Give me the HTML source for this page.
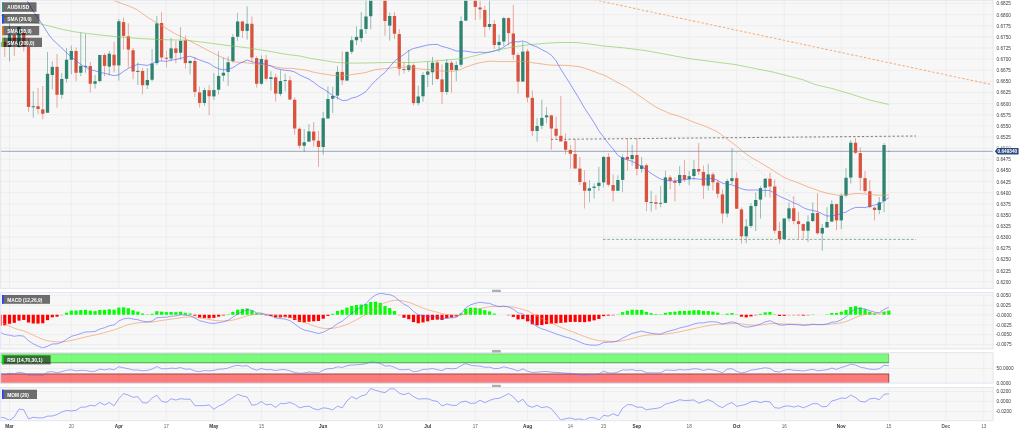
<!DOCTYPE html><html><head><meta charset="utf-8"><title>AUD/USD</title><style>html,body{margin:0;padding:0;background:#fff;overflow:hidden}svg{display:block}</style></head><body><svg width="1024" height="432" viewBox="0 0 1024 432" font-family="Liberation Sans, sans-serif">
<defs><filter id="soft" x="-10" y="-10" width="1044" height="452" filterUnits="userSpaceOnUse" color-interpolation-filters="sRGB"><feGaussianBlur stdDeviation="0.3"/></filter></defs>
<g filter="url(#soft)">
<rect x="-10" y="-10" width="1044" height="452" fill="#fff"/>
<rect x="-10" y="0" width="1003.3" height="288.4" fill="#f7f7f7"/>
<rect x="-10" y="292.5" width="1003.3" height="56.4" fill="#f7f7f7"/>
<rect x="-10" y="352.6" width="1003.3" height="30.5" fill="#f7f7f7"/>
<rect x="-10" y="387.5" width="1003.3" height="33.2" fill="#f7f7f7"/>
<path d="M9.5 0V288.4M71.29 0V288.4M118.82 0V288.4M166.35 0V288.4M213.88 0V288.4M261.41 0V288.4M323.2 0V288.4M380.23 0V288.4M427.76 0V288.4M475.29 0V288.4M527.58 0V288.4M570.35 0V288.4M603.62 0V288.4M636.9 0V288.4M689.18 0V288.4M736.71 0V288.4M784.24 0V288.4M841.27 0V288.4M888.81 0V288.4M945.84 0V288.4M983.87 0V288.4M9.5 292.5V348.9M71.29 292.5V348.9M118.82 292.5V348.9M166.35 292.5V348.9M213.88 292.5V348.9M261.41 292.5V348.9M323.2 292.5V348.9M380.23 292.5V348.9M427.76 292.5V348.9M475.29 292.5V348.9M527.58 292.5V348.9M570.35 292.5V348.9M603.62 292.5V348.9M636.9 292.5V348.9M689.18 292.5V348.9M736.71 292.5V348.9M784.24 292.5V348.9M841.27 292.5V348.9M888.81 292.5V348.9M945.84 292.5V348.9M983.87 292.5V348.9M9.5 352.6V383.1M71.29 352.6V383.1M118.82 352.6V383.1M166.35 352.6V383.1M213.88 352.6V383.1M261.41 352.6V383.1M323.2 352.6V383.1M380.23 352.6V383.1M427.76 352.6V383.1M475.29 352.6V383.1M527.58 352.6V383.1M570.35 352.6V383.1M603.62 352.6V383.1M636.9 352.6V383.1M689.18 352.6V383.1M736.71 352.6V383.1M784.24 352.6V383.1M841.27 352.6V383.1M888.81 352.6V383.1M945.84 352.6V383.1M983.87 352.6V383.1M9.5 387.5V420.7M71.29 387.5V420.7M118.82 387.5V420.7M166.35 387.5V420.7M213.88 387.5V420.7M261.41 387.5V420.7M323.2 387.5V420.7M380.23 387.5V420.7M427.76 387.5V420.7M475.29 387.5V420.7M527.58 387.5V420.7M570.35 387.5V420.7M603.62 387.5V420.7M636.9 387.5V420.7M689.18 387.5V420.7M736.71 387.5V420.7M784.24 387.5V420.7M841.27 387.5V420.7M888.81 387.5V420.7M945.84 387.5V420.7M983.87 387.5V420.7M0 3.5H993.3M0 14.63H993.3M0 25.76H993.3M0 36.89H993.3M0 48.02H993.3M0 59.15H993.3M0 70.28H993.3M0 81.41H993.3M0 92.54H993.3M0 103.67H993.3M0 114.8H993.3M0 125.93H993.3M0 137.06H993.3M0 148.19H993.3M0 159.32H993.3M0 170.45H993.3M0 181.58H993.3M0 192.71H993.3M0 203.84H993.3M0 214.97H993.3M0 226.1H993.3M0 237.23H993.3M0 248.36H993.3M0 259.49H993.3M0 270.62H993.3M0 281.75H993.3M0 295.5H993.3M0 305.25H993.3M0 314.75H993.3M0 325H993.3M0 334.5H993.3M0 344.5H993.3M0 368.5H993.3M0 391.5H993.3M0 401.5H993.3M0 411.5H993.3" stroke="#e9e9e9" stroke-width="0.7" fill="none"/>
<clipPath id="c0"><rect x="-10" y="-10" width="1003.3" height="298.2"/></clipPath>
<g clip-path="url(#c0)">
<path d="M0 151.3H993.3" stroke="#98a6be" stroke-width="1"/>
<path d="M590.3 -1L991.5 84.6" stroke="#f5b282" stroke-width="1.1" stroke-dasharray="2.5 1.87" fill="none"/>
<path d="M551 139.4L916 136" stroke="#3a3a3a" stroke-width="0.65" stroke-dasharray="2.2 2.18" fill="none"/>
<path d="M603 239.4H916" stroke="#79a784" stroke-width="0.9" stroke-dasharray="2.5 1.9" fill="none"/>
<path d="M733 149.5L800 204" stroke="#c4c4c4" stroke-width="0.6" stroke-dasharray="1.6 2.4" fill="none"/>
<path d="M-0.01 40V59.6" stroke="#2d8270" stroke-width="0.7" opacity="0.7"/>
<path d="M4.75 36.5V57" stroke="#d8533f" stroke-width="0.7" opacity="0.7"/>
<path d="M9.5 23.4V61.5" stroke="#2d8270" stroke-width="0.7" opacity="0.7"/>
<path d="M14.25 34.6V55.9" stroke="#d8533f" stroke-width="0.7" opacity="0.7"/>
<path d="M19.01 26.5V47.7" stroke="#2d8270" stroke-width="0.7" opacity="0.7"/>
<path d="M23.76 32V51.5" stroke="#d8533f" stroke-width="0.7" opacity="0.7"/>
<path d="M28.51 38.4V111.9" stroke="#d8533f" stroke-width="0.7" opacity="0.7"/>
<path d="M33.27 91V117.5" stroke="#2d8270" stroke-width="0.7" opacity="0.7"/>
<path d="M38.02 87.75V113.75" stroke="#d8533f" stroke-width="0.7" opacity="0.7"/>
<path d="M42.77 86V119.4" stroke="#d8533f" stroke-width="0.7" opacity="0.7"/>
<path d="M47.52 51.9V112.75" stroke="#2d8270" stroke-width="0.7" opacity="0.7"/>
<path d="M52.28 61.25V89.4" stroke="#2d8270" stroke-width="0.7" opacity="0.7"/>
<path d="M57.03 54V107.75" stroke="#d8533f" stroke-width="0.7" opacity="0.7"/>
<path d="M61.78 73.1V98.75" stroke="#2d8270" stroke-width="0.7" opacity="0.7"/>
<path d="M66.54 48.1V82.5" stroke="#2d8270" stroke-width="0.7" opacity="0.7"/>
<path d="M71.29 45.6V74.4" stroke="#2d8270" stroke-width="0.7" opacity="0.7"/>
<path d="M76.04 47.5V81.25" stroke="#d8533f" stroke-width="0.7" opacity="0.7"/>
<path d="M80.8 32.75V76.25" stroke="#2d8270" stroke-width="0.7" opacity="0.7"/>
<path d="M85.55 34V72.75" stroke="#2d8270" stroke-width="0.7" opacity="0.7"/>
<path d="M90.3 61.9V92.5" stroke="#d8533f" stroke-width="0.7" opacity="0.7"/>
<path d="M95.05 75V88.5" stroke="#2d8270" stroke-width="0.7" opacity="0.7"/>
<path d="M99.81 54.75V82.5" stroke="#2d8270" stroke-width="0.7" opacity="0.7"/>
<path d="M104.56 53.1V76.25" stroke="#d8533f" stroke-width="0.7" opacity="0.7"/>
<path d="M109.31 51V75.6" stroke="#2d8270" stroke-width="0.7" opacity="0.7"/>
<path d="M114.07 41.9V72.5" stroke="#d8533f" stroke-width="0.7" opacity="0.7"/>
<path d="M118.82 19V80.6" stroke="#2d8270" stroke-width="0.7" opacity="0.7"/>
<path d="M123.57 17.5V49.6" stroke="#d8533f" stroke-width="0.7" opacity="0.7"/>
<path d="M128.32 23.4V67.5" stroke="#d8533f" stroke-width="0.7" opacity="0.7"/>
<path d="M133.08 48V79.4" stroke="#d8533f" stroke-width="0.7" opacity="0.7"/>
<path d="M137.83 62.5V85" stroke="#2d8270" stroke-width="0.7" opacity="0.7"/>
<path d="M142.58 68.1V94.4" stroke="#d8533f" stroke-width="0.7" opacity="0.7"/>
<path d="M147.34 68.1V89" stroke="#2d8270" stroke-width="0.7" opacity="0.7"/>
<path d="M152.09 49V81.25" stroke="#2d8270" stroke-width="0.7" opacity="0.7"/>
<path d="M156.84 15.9V65" stroke="#2d8270" stroke-width="0.7" opacity="0.7"/>
<path d="M161.6 12.1V61.25" stroke="#d8533f" stroke-width="0.7" opacity="0.7"/>
<path d="M166.35 50.5V67.5" stroke="#d8533f" stroke-width="0.7" opacity="0.7"/>
<path d="M171.1 38V61.25" stroke="#2d8270" stroke-width="0.7" opacity="0.7"/>
<path d="M175.86 40.9V63.1" stroke="#d8533f" stroke-width="0.7" opacity="0.7"/>
<path d="M180.61 27.1V60" stroke="#2d8270" stroke-width="0.7" opacity="0.7"/>
<path d="M185.36 35.25V68.75" stroke="#d8533f" stroke-width="0.7" opacity="0.7"/>
<path d="M190.11 60V74.4" stroke="#2d8270" stroke-width="0.7" opacity="0.7"/>
<path d="M194.87 56.9V97" stroke="#d8533f" stroke-width="0.7" opacity="0.7"/>
<path d="M199.62 86.4V107.5" stroke="#d8533f" stroke-width="0.7" opacity="0.7"/>
<path d="M204.37 87.6V105.9" stroke="#2d8270" stroke-width="0.7" opacity="0.7"/>
<path d="M209.13 85.25V115.25" stroke="#d8533f" stroke-width="0.7" opacity="0.7"/>
<path d="M213.88 73.1V100.1" stroke="#2d8270" stroke-width="0.7" opacity="0.7"/>
<path d="M218.63 51.25V94.5" stroke="#2d8270" stroke-width="0.7" opacity="0.7"/>
<path d="M223.38 57.5V81.25" stroke="#2d8270" stroke-width="0.7" opacity="0.7"/>
<path d="M228.14 56.5V85.75" stroke="#2d8270" stroke-width="0.7" opacity="0.7"/>
<path d="M232.89 34V62.75" stroke="#2d8270" stroke-width="0.7" opacity="0.7"/>
<path d="M237.64 12.75V40.9" stroke="#2d8270" stroke-width="0.7" opacity="0.7"/>
<path d="M242.4 20.9V37.75" stroke="#d8533f" stroke-width="0.7" opacity="0.7"/>
<path d="M247.15 6.25V39.6" stroke="#2d8270" stroke-width="0.7" opacity="0.7"/>
<path d="M251.9 16.5V62.5" stroke="#d8533f" stroke-width="0.7" opacity="0.7"/>
<path d="M256.66 56.25V87.6" stroke="#d8533f" stroke-width="0.7" opacity="0.7"/>
<path d="M261.41 55.25V85" stroke="#2d8270" stroke-width="0.7" opacity="0.7"/>
<path d="M266.16 55V80.6" stroke="#d8533f" stroke-width="0.7" opacity="0.7"/>
<path d="M270.92 71.25V90.5" stroke="#2d8270" stroke-width="0.7" opacity="0.7"/>
<path d="M275.67 73.75V101.5" stroke="#d8533f" stroke-width="0.7" opacity="0.7"/>
<path d="M280.42 70V96.25" stroke="#2d8270" stroke-width="0.7" opacity="0.7"/>
<path d="M285.17 73.75V91.4" stroke="#2d8270" stroke-width="0.7" opacity="0.7"/>
<path d="M289.93 76.25V100" stroke="#d8533f" stroke-width="0.7" opacity="0.7"/>
<path d="M294.68 97.25V134.75" stroke="#d8533f" stroke-width="0.7" opacity="0.7"/>
<path d="M299.43 127.25V148.5" stroke="#d8533f" stroke-width="0.7" opacity="0.7"/>
<path d="M304.19 129V152.2" stroke="#2d8270" stroke-width="0.7" opacity="0.7"/>
<path d="M308.94 124.1V141.6" stroke="#2d8270" stroke-width="0.7" opacity="0.7"/>
<path d="M313.69 122V146.6" stroke="#d8533f" stroke-width="0.7" opacity="0.7"/>
<path d="M318.44 131V167" stroke="#d8533f" stroke-width="0.7" opacity="0.7"/>
<path d="M323.2 112V154.7" stroke="#2d8270" stroke-width="0.7" opacity="0.7"/>
<path d="M327.95 86.25V118.5" stroke="#2d8270" stroke-width="0.7" opacity="0.7"/>
<path d="M332.7 86.9V112.9" stroke="#2d8270" stroke-width="0.7" opacity="0.7"/>
<path d="M337.46 66V99.4" stroke="#2d8270" stroke-width="0.7" opacity="0.7"/>
<path d="M342.21 51.4V85" stroke="#d8533f" stroke-width="0.7" opacity="0.7"/>
<path d="M346.96 51.5V80.6" stroke="#2d8270" stroke-width="0.7" opacity="0.7"/>
<path d="M351.72 36.5V54" stroke="#2d8270" stroke-width="0.7" opacity="0.7"/>
<path d="M356.47 26.25V45" stroke="#2d8270" stroke-width="0.7" opacity="0.7"/>
<path d="M361.22 11.9V41.9" stroke="#2d8270" stroke-width="0.7" opacity="0.7"/>
<path d="M365.98 -5V34" stroke="#2d8270" stroke-width="0.7" opacity="0.7"/>
<path d="M370.73 -8V29.4" stroke="#2d8270" stroke-width="0.7" opacity="0.7"/>
<path d="M375.48 -25V-3" stroke="#2d8270" stroke-width="0.7" opacity="0.7"/>
<path d="M380.23 -25V-3" stroke="#d8533f" stroke-width="0.7" opacity="0.7"/>
<path d="M384.99 -10V35.6" stroke="#d8533f" stroke-width="0.7" opacity="0.7"/>
<path d="M389.74 12.5V40.6" stroke="#2d8270" stroke-width="0.7" opacity="0.7"/>
<path d="M394.49 11.9V39" stroke="#d8533f" stroke-width="0.7" opacity="0.7"/>
<path d="M399.25 29V75.6" stroke="#d8533f" stroke-width="0.7" opacity="0.7"/>
<path d="M404 61.9V73.5" stroke="#d8533f" stroke-width="0.7" opacity="0.7"/>
<path d="M408.75 50V71.9" stroke="#2d8270" stroke-width="0.7" opacity="0.7"/>
<path d="M413.5 63.5V105.25" stroke="#d8533f" stroke-width="0.7" opacity="0.7"/>
<path d="M418.26 85.6V105.5" stroke="#2d8270" stroke-width="0.7" opacity="0.7"/>
<path d="M423.01 72.25V101.8" stroke="#2d8270" stroke-width="0.7" opacity="0.7"/>
<path d="M427.76 61.9V86.9" stroke="#2d8270" stroke-width="0.7" opacity="0.7"/>
<path d="M432.52 56.9V85" stroke="#2d8270" stroke-width="0.7" opacity="0.7"/>
<path d="M437.27 59.75V80" stroke="#d8533f" stroke-width="0.7" opacity="0.7"/>
<path d="M442.02 64.4V104" stroke="#d8533f" stroke-width="0.7" opacity="0.7"/>
<path d="M446.78 59V94.7" stroke="#2d8270" stroke-width="0.7" opacity="0.7"/>
<path d="M451.53 61V92.75" stroke="#d8533f" stroke-width="0.7" opacity="0.7"/>
<path d="M456.28 61.25V81.25" stroke="#2d8270" stroke-width="0.7" opacity="0.7"/>
<path d="M461.04 16.25V66.9" stroke="#2d8270" stroke-width="0.7" opacity="0.7"/>
<path d="M465.79 -8V21" stroke="#2d8270" stroke-width="0.7" opacity="0.7"/>
<path d="M470.54 -20V1" stroke="#d8533f" stroke-width="0.7" opacity="0.7"/>
<path d="M475.29 -5V20" stroke="#d8533f" stroke-width="0.7" opacity="0.7"/>
<path d="M480.05 -2V19.4" stroke="#d8533f" stroke-width="0.7" opacity="0.7"/>
<path d="M484.8 5.6V36.9" stroke="#d8533f" stroke-width="0.7" opacity="0.7"/>
<path d="M489.55 -2V29.75" stroke="#2d8270" stroke-width="0.7" opacity="0.7"/>
<path d="M494.31 20V49" stroke="#d8533f" stroke-width="0.7" opacity="0.7"/>
<path d="M499.06 34.4V51.9" stroke="#2d8270" stroke-width="0.7" opacity="0.7"/>
<path d="M503.81 16.9V46.25" stroke="#2d8270" stroke-width="0.7" opacity="0.7"/>
<path d="M508.56 17.25V45.6" stroke="#d8533f" stroke-width="0.7" opacity="0.7"/>
<path d="M513.32 5V59.5" stroke="#d8533f" stroke-width="0.7" opacity="0.7"/>
<path d="M518.07 52.75V93.5" stroke="#d8533f" stroke-width="0.7" opacity="0.7"/>
<path d="M522.82 41.9V81.6" stroke="#2d8270" stroke-width="0.7" opacity="0.7"/>
<path d="M527.58 49V102.25" stroke="#d8533f" stroke-width="0.7" opacity="0.7"/>
<path d="M532.33 90.4V136" stroke="#d8533f" stroke-width="0.7" opacity="0.7"/>
<path d="M537.08 118.25V141.6" stroke="#2d8270" stroke-width="0.7" opacity="0.7"/>
<path d="M541.84 99.75V129.1" stroke="#2d8270" stroke-width="0.7" opacity="0.7"/>
<path d="M546.59 107V123.5" stroke="#2d8270" stroke-width="0.7" opacity="0.7"/>
<path d="M551.34 114.75V149.75" stroke="#d8533f" stroke-width="0.7" opacity="0.7"/>
<path d="M556.1 116.6V138.5" stroke="#d8533f" stroke-width="0.7" opacity="0.7"/>
<path d="M560.85 96V141.6" stroke="#d8533f" stroke-width="0.7" opacity="0.7"/>
<path d="M565.6 133.5V154.4" stroke="#d8533f" stroke-width="0.7" opacity="0.7"/>
<path d="M570.35 145V168.75" stroke="#d8533f" stroke-width="0.7" opacity="0.7"/>
<path d="M575.11 138.9V168.75" stroke="#d8533f" stroke-width="0.7" opacity="0.7"/>
<path d="M579.86 156.9V185" stroke="#d8533f" stroke-width="0.7" opacity="0.7"/>
<path d="M584.61 170.2V208.5" stroke="#d8533f" stroke-width="0.7" opacity="0.7"/>
<path d="M589.37 180V202.25" stroke="#2d8270" stroke-width="0.7" opacity="0.7"/>
<path d="M594.12 183.3V198.5" stroke="#2d8270" stroke-width="0.7" opacity="0.7"/>
<path d="M598.87 166.9V191" stroke="#2d8270" stroke-width="0.7" opacity="0.7"/>
<path d="M603.62 156.25V187.25" stroke="#2d8270" stroke-width="0.7" opacity="0.7"/>
<path d="M608.38 153.1V186.6" stroke="#d8533f" stroke-width="0.7" opacity="0.7"/>
<path d="M613.13 174.2V201.6" stroke="#d8533f" stroke-width="0.7" opacity="0.7"/>
<path d="M617.88 175.3V191" stroke="#2d8270" stroke-width="0.7" opacity="0.7"/>
<path d="M622.64 154.4V192.25" stroke="#2d8270" stroke-width="0.7" opacity="0.7"/>
<path d="M627.39 138.5V170.8" stroke="#d8533f" stroke-width="0.7" opacity="0.7"/>
<path d="M632.14 144.75V165.6" stroke="#2d8270" stroke-width="0.7" opacity="0.7"/>
<path d="M636.9 138.1V175.5" stroke="#d8533f" stroke-width="0.7" opacity="0.7"/>
<path d="M641.65 156.9V172.7" stroke="#2d8270" stroke-width="0.7" opacity="0.7"/>
<path d="M646.4 163.5V211.25" stroke="#d8533f" stroke-width="0.7" opacity="0.7"/>
<path d="M651.15 190.75V211.6" stroke="#2d8270" stroke-width="0.7" opacity="0.7"/>
<path d="M655.91 195V209.75" stroke="#d8533f" stroke-width="0.7" opacity="0.7"/>
<path d="M660.66 186.1V207.25" stroke="#2d8270" stroke-width="0.7" opacity="0.7"/>
<path d="M665.41 170.8V202.9" stroke="#2d8270" stroke-width="0.7" opacity="0.7"/>
<path d="M670.17 175.2V189.25" stroke="#d8533f" stroke-width="0.7" opacity="0.7"/>
<path d="M674.92 177.4V201.4" stroke="#d8533f" stroke-width="0.7" opacity="0.7"/>
<path d="M679.67 166V185.5" stroke="#2d8270" stroke-width="0.7" opacity="0.7"/>
<path d="M684.43 160V182" stroke="#d8533f" stroke-width="0.7" opacity="0.7"/>
<path d="M689.18 171V185.25" stroke="#2d8270" stroke-width="0.7" opacity="0.7"/>
<path d="M693.93 160V180" stroke="#2d8270" stroke-width="0.7" opacity="0.7"/>
<path d="M698.69 143.1V175" stroke="#d8533f" stroke-width="0.7" opacity="0.7"/>
<path d="M703.44 165.6V199" stroke="#d8533f" stroke-width="0.7" opacity="0.7"/>
<path d="M708.19 163.75V190.6" stroke="#2d8270" stroke-width="0.7" opacity="0.7"/>
<path d="M712.94 172.25V190.6" stroke="#d8533f" stroke-width="0.7" opacity="0.7"/>
<path d="M717.7 180V198.1" stroke="#d8533f" stroke-width="0.7" opacity="0.7"/>
<path d="M722.45 189.4V223.1" stroke="#d8533f" stroke-width="0.7" opacity="0.7"/>
<path d="M727.2 178.75V217.5" stroke="#2d8270" stroke-width="0.7" opacity="0.7"/>
<path d="M731.96 148.1V183.75" stroke="#2d8270" stroke-width="0.7" opacity="0.7"/>
<path d="M736.71 172.5V209" stroke="#d8533f" stroke-width="0.7" opacity="0.7"/>
<path d="M741.46 207.5V243.5" stroke="#d8533f" stroke-width="0.7" opacity="0.7"/>
<path d="M746.22 219V243.25" stroke="#2d8270" stroke-width="0.7" opacity="0.7"/>
<path d="M750.97 203.1V228.1" stroke="#2d8270" stroke-width="0.7" opacity="0.7"/>
<path d="M755.72 192.6V231.1" stroke="#2d8270" stroke-width="0.7" opacity="0.7"/>
<path d="M760.47 186.25V218.5" stroke="#2d8270" stroke-width="0.7" opacity="0.7"/>
<path d="M765.23 178V196.9" stroke="#2d8270" stroke-width="0.7" opacity="0.7"/>
<path d="M769.98 172.6V197.5" stroke="#d8533f" stroke-width="0.7" opacity="0.7"/>
<path d="M774.73 179.4V233.9" stroke="#d8533f" stroke-width="0.7" opacity="0.7"/>
<path d="M779.49 222.25V243.5" stroke="#d8533f" stroke-width="0.7" opacity="0.7"/>
<path d="M784.24 218V239.1" stroke="#2d8270" stroke-width="0.7" opacity="0.7"/>
<path d="M788.99 202.5V221.6" stroke="#2d8270" stroke-width="0.7" opacity="0.7"/>
<path d="M793.75 196.25V224.5" stroke="#d8533f" stroke-width="0.7" opacity="0.7"/>
<path d="M798.5 212V238.75" stroke="#d8533f" stroke-width="0.7" opacity="0.7"/>
<path d="M803.25 223.5V238.75" stroke="#d8533f" stroke-width="0.7" opacity="0.7"/>
<path d="M808 215.4V242" stroke="#2d8270" stroke-width="0.7" opacity="0.7"/>
<path d="M812.76 202.5V222.25" stroke="#2d8270" stroke-width="0.7" opacity="0.7"/>
<path d="M817.51 193.3V234.75" stroke="#d8533f" stroke-width="0.7" opacity="0.7"/>
<path d="M822.26 224.1V250.75" stroke="#2d8270" stroke-width="0.7" opacity="0.7"/>
<path d="M827.02 207.25V227.5" stroke="#2d8270" stroke-width="0.7" opacity="0.7"/>
<path d="M831.77 200.3V221.6" stroke="#2d8270" stroke-width="0.7" opacity="0.7"/>
<path d="M836.52 203.5V230.2" stroke="#d8533f" stroke-width="0.7" opacity="0.7"/>
<path d="M841.27 193.3V229.1" stroke="#2d8270" stroke-width="0.7" opacity="0.7"/>
<path d="M846.03 168.1V197.4" stroke="#2d8270" stroke-width="0.7" opacity="0.7"/>
<path d="M850.78 140V183.6" stroke="#2d8270" stroke-width="0.7" opacity="0.7"/>
<path d="M855.53 138.1V154" stroke="#d8533f" stroke-width="0.7" opacity="0.7"/>
<path d="M860.29 147.5V190.5" stroke="#d8533f" stroke-width="0.7" opacity="0.7"/>
<path d="M865.04 171.1V193" stroke="#d8533f" stroke-width="0.7" opacity="0.7"/>
<path d="M869.79 180.2V208.3" stroke="#d8533f" stroke-width="0.7" opacity="0.7"/>
<path d="M874.55 206.6V220.4" stroke="#d8533f" stroke-width="0.7" opacity="0.7"/>
<path d="M879.3 197V214.1" stroke="#2d8270" stroke-width="0.7" opacity="0.7"/>
<path d="M884.05 143.1V212.25" stroke="#2d8270" stroke-width="0.7" opacity="0.7"/>
<path d="M888.81 150.9V151.7" stroke="#d8533f" stroke-width="0.7" opacity="0.7"/>
<rect x="-1.66" y="42.1" width="3.3" height="4.9" fill="#2d8270"/>
<rect x="3.1" y="42" width="3.3" height="5" fill="#d8533f"/>
<rect x="7.85" y="34.6" width="3.3" height="12.4" fill="#2d8270"/>
<rect x="12.6" y="35" width="3.3" height="10" fill="#d8533f"/>
<rect x="17.36" y="27" width="3.3" height="20" fill="#2d8270"/>
<rect x="22.11" y="32.75" width="3.3" height="13.75" fill="#d8533f"/>
<rect x="26.86" y="47" width="3.3" height="59.9" fill="#d8533f"/>
<rect x="31.62" y="106.25" width="3.3" height="1" fill="#2d8270"/>
<rect x="36.37" y="106.25" width="3.3" height="2.75" fill="#d8533f"/>
<rect x="41.12" y="109.4" width="3.3" height="4.35" fill="#d8533f"/>
<rect x="45.87" y="73.75" width="3.3" height="39" fill="#2d8270"/>
<rect x="50.63" y="66.9" width="3.3" height="8.1" fill="#2d8270"/>
<rect x="55.38" y="66.9" width="3.3" height="27.85" fill="#d8533f"/>
<rect x="60.13" y="79" width="3.3" height="15.75" fill="#2d8270"/>
<rect x="64.89" y="59.75" width="3.3" height="19" fill="#2d8270"/>
<rect x="69.64" y="51" width="3.3" height="8.75" fill="#2d8270"/>
<rect x="74.39" y="51" width="3.3" height="21.75" fill="#d8533f"/>
<rect x="79.14" y="65.9" width="3.3" height="6.85" fill="#2d8270"/>
<rect x="83.9" y="65.9" width="3.3" height="1" fill="#2d8270"/>
<rect x="88.65" y="66" width="3.3" height="17.75" fill="#d8533f"/>
<rect x="93.4" y="81.25" width="3.3" height="2.5" fill="#2d8270"/>
<rect x="98.16" y="55" width="3.3" height="26" fill="#2d8270"/>
<rect x="102.91" y="55" width="3.3" height="10.9" fill="#d8533f"/>
<rect x="107.66" y="53.75" width="3.3" height="12.85" fill="#2d8270"/>
<rect x="112.42" y="54.75" width="3.3" height="10.65" fill="#d8533f"/>
<rect x="117.17" y="21.25" width="3.3" height="44.15" fill="#2d8270"/>
<rect x="121.92" y="22.1" width="3.3" height="13.8" fill="#d8533f"/>
<rect x="126.67" y="36.25" width="3.3" height="13.35" fill="#d8533f"/>
<rect x="131.43" y="50.25" width="3.3" height="21.25" fill="#d8533f"/>
<rect x="136.18" y="70.9" width="3.3" height="1" fill="#2d8270"/>
<rect x="140.93" y="71" width="3.3" height="14.25" fill="#d8533f"/>
<rect x="145.69" y="80" width="3.3" height="5.25" fill="#2d8270"/>
<rect x="150.44" y="63.5" width="3.3" height="16.25" fill="#2d8270"/>
<rect x="155.19" y="23.4" width="3.3" height="39.7" fill="#2d8270"/>
<rect x="159.95" y="23" width="3.3" height="34.5" fill="#d8533f"/>
<rect x="164.7" y="57.75" width="3.3" height="1" fill="#d8533f"/>
<rect x="169.45" y="48.4" width="3.3" height="10.1" fill="#2d8270"/>
<rect x="174.21" y="48.4" width="3.3" height="4.5" fill="#d8533f"/>
<rect x="178.96" y="40.9" width="3.3" height="11.85" fill="#2d8270"/>
<rect x="183.71" y="40.25" width="3.3" height="22.85" fill="#d8533f"/>
<rect x="188.46" y="61" width="3.3" height="2.1" fill="#2d8270"/>
<rect x="193.22" y="61" width="3.3" height="30.9" fill="#d8533f"/>
<rect x="197.97" y="92.4" width="3.3" height="10.6" fill="#d8533f"/>
<rect x="202.72" y="90.1" width="3.3" height="12.9" fill="#2d8270"/>
<rect x="207.48" y="90.25" width="3.3" height="6" fill="#d8533f"/>
<rect x="212.23" y="90" width="3.3" height="6.4" fill="#2d8270"/>
<rect x="216.98" y="75.9" width="3.3" height="13.8" fill="#2d8270"/>
<rect x="221.73" y="72.75" width="3.3" height="2.85" fill="#2d8270"/>
<rect x="226.49" y="62.25" width="3.3" height="9.65" fill="#2d8270"/>
<rect x="231.24" y="37.1" width="3.3" height="24" fill="#2d8270"/>
<rect x="235.99" y="21.5" width="3.3" height="15.25" fill="#2d8270"/>
<rect x="240.75" y="21.5" width="3.3" height="9.4" fill="#d8533f"/>
<rect x="245.5" y="23.75" width="3.3" height="7.15" fill="#2d8270"/>
<rect x="250.25" y="23.75" width="3.3" height="33.75" fill="#d8533f"/>
<rect x="255.01" y="58.1" width="3.3" height="25.65" fill="#d8533f"/>
<rect x="259.76" y="59" width="3.3" height="24.75" fill="#2d8270"/>
<rect x="264.51" y="59.75" width="3.3" height="19" fill="#d8533f"/>
<rect x="269.27" y="77.25" width="3.3" height="1.75" fill="#2d8270"/>
<rect x="274.02" y="77.25" width="3.3" height="16.35" fill="#d8533f"/>
<rect x="278.77" y="81" width="3.3" height="12.9" fill="#2d8270"/>
<rect x="283.52" y="80" width="3.3" height="0.8" fill="#2d8270"/>
<rect x="288.28" y="80.25" width="3.3" height="19.25" fill="#d8533f"/>
<rect x="293.03" y="99.75" width="3.3" height="28.75" fill="#d8533f"/>
<rect x="297.78" y="128.75" width="3.3" height="17" fill="#d8533f"/>
<rect x="302.54" y="142.25" width="3.3" height="3.5" fill="#2d8270"/>
<rect x="307.29" y="131.4" width="3.3" height="10.2" fill="#2d8270"/>
<rect x="312.04" y="131.6" width="3.3" height="8.8" fill="#d8533f"/>
<rect x="316.8" y="140.75" width="3.3" height="6.25" fill="#d8533f"/>
<rect x="321.55" y="118.25" width="3.3" height="28.75" fill="#2d8270"/>
<rect x="326.3" y="99" width="3.3" height="19.5" fill="#2d8270"/>
<rect x="331.05" y="96" width="3.3" height="2.75" fill="#2d8270"/>
<rect x="335.81" y="71.9" width="3.3" height="23.7" fill="#2d8270"/>
<rect x="340.56" y="71.9" width="3.3" height="8.35" fill="#d8533f"/>
<rect x="345.31" y="51.9" width="3.3" height="28.7" fill="#2d8270"/>
<rect x="350.07" y="40.25" width="3.3" height="11.45" fill="#2d8270"/>
<rect x="354.82" y="36.9" width="3.3" height="3.35" fill="#2d8270"/>
<rect x="359.57" y="29.4" width="3.3" height="8.7" fill="#2d8270"/>
<rect x="364.33" y="16.5" width="3.3" height="12.5" fill="#2d8270"/>
<rect x="369.08" y="-5" width="3.3" height="21.25" fill="#2d8270"/>
<rect x="373.83" y="-20" width="3.3" height="15" fill="#2d8270"/>
<rect x="378.58" y="-20" width="3.3" height="12" fill="#d8533f"/>
<rect x="383.34" y="-8" width="3.3" height="29" fill="#d8533f"/>
<rect x="388.09" y="16" width="3.3" height="9.6" fill="#2d8270"/>
<rect x="392.84" y="16" width="3.3" height="17.75" fill="#d8533f"/>
<rect x="397.6" y="34" width="3.3" height="34.75" fill="#d8533f"/>
<rect x="402.35" y="69" width="3.3" height="1" fill="#d8533f"/>
<rect x="407.1" y="65.25" width="3.3" height="4.75" fill="#2d8270"/>
<rect x="411.86" y="65.25" width="3.3" height="37.85" fill="#d8533f"/>
<rect x="416.61" y="96.5" width="3.3" height="6.6" fill="#2d8270"/>
<rect x="421.36" y="75" width="3.3" height="21.3" fill="#2d8270"/>
<rect x="426.11" y="71.5" width="3.3" height="3.25" fill="#2d8270"/>
<rect x="430.87" y="62.75" width="3.3" height="9.5" fill="#2d8270"/>
<rect x="435.62" y="62.5" width="3.3" height="16.5" fill="#d8533f"/>
<rect x="440.37" y="79.4" width="3.3" height="12.6" fill="#d8533f"/>
<rect x="445.13" y="62.75" width="3.3" height="29.25" fill="#2d8270"/>
<rect x="449.88" y="62.75" width="3.3" height="7.25" fill="#d8533f"/>
<rect x="454.63" y="65" width="3.3" height="5" fill="#2d8270"/>
<rect x="459.39" y="21" width="3.3" height="43.75" fill="#2d8270"/>
<rect x="464.14" y="-5" width="3.3" height="25.6" fill="#2d8270"/>
<rect x="468.89" y="-15" width="3.3" height="12" fill="#d8533f"/>
<rect x="473.64" y="-3" width="3.3" height="9.9" fill="#d8533f"/>
<rect x="478.4" y="7.5" width="3.3" height="1.9" fill="#d8533f"/>
<rect x="483.15" y="10" width="3.3" height="16.9" fill="#d8533f"/>
<rect x="487.9" y="24" width="3.3" height="2.9" fill="#2d8270"/>
<rect x="492.66" y="24" width="3.3" height="21" fill="#d8533f"/>
<rect x="497.41" y="41.9" width="3.3" height="3.1" fill="#2d8270"/>
<rect x="502.16" y="18.1" width="3.3" height="23.4" fill="#2d8270"/>
<rect x="506.92" y="18.1" width="3.3" height="15" fill="#d8533f"/>
<rect x="511.67" y="33.5" width="3.3" height="21.25" fill="#d8533f"/>
<rect x="516.42" y="55" width="3.3" height="26.6" fill="#d8533f"/>
<rect x="521.17" y="51.6" width="3.3" height="30" fill="#2d8270"/>
<rect x="525.93" y="51.25" width="3.3" height="46.25" fill="#d8533f"/>
<rect x="530.68" y="97.9" width="3.3" height="33.1" fill="#d8533f"/>
<rect x="535.43" y="126" width="3.3" height="5" fill="#2d8270"/>
<rect x="540.19" y="117.9" width="3.3" height="7.85" fill="#2d8270"/>
<rect x="544.94" y="115.4" width="3.3" height="1.85" fill="#2d8270"/>
<rect x="549.69" y="115.4" width="3.3" height="13.1" fill="#d8533f"/>
<rect x="554.45" y="128.75" width="3.3" height="7" fill="#d8533f"/>
<rect x="559.2" y="135.8" width="3.3" height="5.6" fill="#d8533f"/>
<rect x="563.95" y="141.25" width="3.3" height="8.5" fill="#d8533f"/>
<rect x="568.7" y="150" width="3.3" height="3.75" fill="#d8533f"/>
<rect x="573.46" y="154" width="3.3" height="14.5" fill="#d8533f"/>
<rect x="578.21" y="168.6" width="3.3" height="13.4" fill="#d8533f"/>
<rect x="582.96" y="182.25" width="3.3" height="8.5" fill="#d8533f"/>
<rect x="587.72" y="188.25" width="3.3" height="2.5" fill="#2d8270"/>
<rect x="592.47" y="186.6" width="3.3" height="1.3" fill="#2d8270"/>
<rect x="597.22" y="182.8" width="3.3" height="3.2" fill="#2d8270"/>
<rect x="601.98" y="156.9" width="3.3" height="25.5" fill="#2d8270"/>
<rect x="606.73" y="156.9" width="3.3" height="27.85" fill="#d8533f"/>
<rect x="611.48" y="185" width="3.3" height="5.75" fill="#d8533f"/>
<rect x="616.23" y="180" width="3.3" height="10.75" fill="#2d8270"/>
<rect x="620.99" y="157.25" width="3.3" height="22.65" fill="#2d8270"/>
<rect x="625.74" y="156.9" width="3.3" height="2.5" fill="#d8533f"/>
<rect x="630.49" y="155" width="3.3" height="4" fill="#2d8270"/>
<rect x="635.25" y="155" width="3.3" height="13.9" fill="#d8533f"/>
<rect x="640" y="165.6" width="3.3" height="3.3" fill="#2d8270"/>
<rect x="644.75" y="165.25" width="3.3" height="36.75" fill="#d8533f"/>
<rect x="649.5" y="202" width="3.3" height="0.8" fill="#2d8270"/>
<rect x="654.26" y="202.25" width="3.3" height="1.5" fill="#d8533f"/>
<rect x="659.01" y="202.9" width="3.3" height="0.85" fill="#2d8270"/>
<rect x="663.76" y="177.4" width="3.3" height="25.5" fill="#2d8270"/>
<rect x="668.52" y="177.4" width="3.3" height="3.3" fill="#d8533f"/>
<rect x="673.27" y="181" width="3.3" height="1.8" fill="#d8533f"/>
<rect x="678.02" y="175" width="3.3" height="8" fill="#2d8270"/>
<rect x="682.78" y="175" width="3.3" height="4.6" fill="#d8533f"/>
<rect x="687.53" y="176.25" width="3.3" height="2.75" fill="#2d8270"/>
<rect x="692.28" y="169" width="3.3" height="7" fill="#2d8270"/>
<rect x="697.04" y="169" width="3.3" height="2.5" fill="#d8533f"/>
<rect x="701.79" y="171.9" width="3.3" height="13.7" fill="#d8533f"/>
<rect x="706.54" y="174.4" width="3.3" height="11.2" fill="#2d8270"/>
<rect x="711.29" y="174.4" width="3.3" height="7.85" fill="#d8533f"/>
<rect x="716.05" y="182.5" width="3.3" height="11.25" fill="#d8533f"/>
<rect x="720.8" y="194.4" width="3.3" height="19.1" fill="#d8533f"/>
<rect x="725.55" y="181" width="3.3" height="32.5" fill="#2d8270"/>
<rect x="730.31" y="178.1" width="3.3" height="2.9" fill="#2d8270"/>
<rect x="735.06" y="178.1" width="3.3" height="30.65" fill="#d8533f"/>
<rect x="739.81" y="209.4" width="3.3" height="26.9" fill="#d8533f"/>
<rect x="744.57" y="226.4" width="3.3" height="9.9" fill="#2d8270"/>
<rect x="749.32" y="206" width="3.3" height="20" fill="#2d8270"/>
<rect x="754.07" y="200" width="3.3" height="6.1" fill="#2d8270"/>
<rect x="758.82" y="188.1" width="3.3" height="11.5" fill="#2d8270"/>
<rect x="763.58" y="178.75" width="3.3" height="9" fill="#2d8270"/>
<rect x="768.33" y="178.75" width="3.3" height="7.75" fill="#d8533f"/>
<rect x="773.08" y="186.5" width="3.3" height="44.2" fill="#d8533f"/>
<rect x="777.84" y="231" width="3.3" height="8.1" fill="#d8533f"/>
<rect x="782.59" y="218.5" width="3.3" height="20.6" fill="#2d8270"/>
<rect x="787.34" y="208.3" width="3.3" height="10.2" fill="#2d8270"/>
<rect x="792.1" y="208.3" width="3.3" height="12.7" fill="#d8533f"/>
<rect x="796.85" y="221.25" width="3.3" height="2.85" fill="#d8533f"/>
<rect x="801.6" y="224.1" width="3.3" height="6.65" fill="#d8533f"/>
<rect x="806.35" y="221.6" width="3.3" height="9.15" fill="#2d8270"/>
<rect x="811.11" y="213.2" width="3.3" height="7.8" fill="#2d8270"/>
<rect x="815.86" y="213" width="3.3" height="20.25" fill="#d8533f"/>
<rect x="820.61" y="227.9" width="3.3" height="5.6" fill="#2d8270"/>
<rect x="825.37" y="222" width="3.3" height="5.5" fill="#2d8270"/>
<rect x="830.12" y="204.1" width="3.3" height="17.5" fill="#2d8270"/>
<rect x="834.87" y="204.1" width="3.3" height="16.3" fill="#d8533f"/>
<rect x="839.62" y="195.7" width="3.3" height="24.7" fill="#2d8270"/>
<rect x="844.38" y="177.8" width="3.3" height="17.7" fill="#2d8270"/>
<rect x="849.13" y="142.75" width="3.3" height="34.75" fill="#2d8270"/>
<rect x="853.88" y="142.75" width="3.3" height="10" fill="#d8533f"/>
<rect x="858.64" y="153.1" width="3.3" height="24.7" fill="#d8533f"/>
<rect x="863.39" y="178.2" width="3.3" height="12.8" fill="#d8533f"/>
<rect x="868.14" y="191.25" width="3.3" height="15.85" fill="#d8533f"/>
<rect x="872.9" y="207.7" width="3.3" height="2.3" fill="#d8533f"/>
<rect x="877.65" y="202.4" width="3.3" height="7.6" fill="#2d8270"/>
<rect x="882.4" y="145" width="3.3" height="56" fill="#2d8270"/>
<rect x="888.31" y="150.9" width="1" height="0.8" fill="#d8533f" opacity="0.6"/>
<polyline fill="none" stroke="#86cc5c" stroke-width="0.65" stroke-linejoin="round"  points="0,15 12.5,18.75 25,21.25 37.5,23.1 50,26.25 62.5,29.4 75,31.9 87.5,33.5 100,35 112.5,36.25 137,38.4 162,39.6 187,40.25 212,43.4 224,45 249,48 274,52.1 286.5,54.4 299,55.9 311.5,58.5 336.5,62.5 352,63.1 361,63.1 386,62.5 411,62.5 436,61 464,58.5 481.75,54 498,50 513,46.9 529.25,44.75 548,43.1 560.5,42.5 576,42.5 590,44 602.25,45.8 624,47.9 645,50.5 690,58.75 735,64.5 775,72.5 803.75,80 815,84.5 832,88.5 850.75,94 869.5,100 888.8,104.4"/>
<polyline fill="none" stroke="#f0935c" stroke-width="0.65" stroke-linejoin="round"  points="112.5,0 123.25,4 130,6.5 137,9.6 148.25,17.75 162,25.9 174.5,33.4 187,39.6 199.5,45.9 207,50 219.5,56.25 224,58.1 234,61.9 244,62.5 247.15,62.92 251.9,63.56 256.66,64.14 261.41,64.49 266.16,65.05 270.92,65.99 275.67,66.91 280.42,67.77 285.17,68.38 289.93,68.24 294.68,68.65 299.43,69.32 304.19,69.83 308.94,70.88 313.69,72.22 318.44,73.17 323.2,73.88 327.95,74.6 332.7,75.41 337.46,75.4 342.21,75.66 346.96,75.4 351.72,74.61 356.47,73.81 361.22,73.34 365.98,72.44 370.73,71.06 375.48,69.53 380.23,69.01 384.99,68.73 389.74,68.12 394.49,67.44 399.25,67.4 404,67.12 408.75,66.85 413.5,67.57 418.26,68.9 423.01,69.22 427.76,69.45 432.52,69.71 437.27,70.19 442.02,71.12 446.78,71.11 451.53,71.27 456.28,70.78 461.04,69.29 465.79,67.2 470.54,65.41 475.29,63.9 480.05,62.69 484.8,61.86 489.55,61.16 494.31,61.3 499.06,61.67 503.81,61.44 508.56,61.61 513.32,61.56 518.07,61.52 522.82,61.39 527.58,61.73 532.33,62.71 537.08,63.3 541.84,63.97 546.59,64.61 551.34,65.14 556.1,65.27 560.85,65.19 565.6,65.33 570.35,65.73 575.11,66.24 579.86,66.88 584.61,68.2 589.37,69.82 594.12,71.47 598.87,73.48 603.62,74.88 608.38,77.29 613.13,80.03 617.88,82.63 622.64,84.96 627.39,87.55 632.14,90.78 636.9,94.19 641.65,97.34 646.4,100.63 651.15,104.01 655.91,107.1 660.66,109.54 665.41,111.5 670.17,113.59 674.92,115.04 679.67,116.47 684.43,118.37 689.18,120.28 693.93,122.21 698.69,123.89 703.44,125.59 708.19,127.62 712.94,129.66 717.7,132 722.45,135.5 727.2,139.25 731.96,142.53 736.71,146.2 741.46,150.33 746.22,153.95 750.97,157.26 755.72,160.08 760.47,162.74 765.23,165.66 769.98,168.45 774.73,171.65 779.49,174.51 784.24,177.55 788.99,179.56 793.75,181.2 798.5,182.98 803.25,185.03 808,186.96 812.76,188.5 817.51,190.28 822.26,191.85 827.02,193.16 831.77,194.08 836.52,195.02 841.27,195.27 846.03,195.03 850.78,194.21 855.53,193.59 860.29,193.5 865.04,194.12 869.79,194.53 874.55,194.88 879.3,195.28 884.05,195.06 888.81,194.92"/>
<polyline fill="none" stroke="#5566ff" stroke-width="0.65" stroke-linejoin="round"  points="26.9,0 33,11 40,21 43,25.5 49,35 53,40 60,46.25 67.5,53.75 75,60 82.5,65.6 90,69.4 100,72.25 104.56,73.37 109.31,74.44 114.07,75.66 118.82,74.78 123.57,71.4 128.32,68.37 133.08,66.34 137.83,64.2 142.58,64.77 147.34,65.42 152.09,63.86 156.84,61.08 161.6,60.97 166.35,61.36 171.1,60.14 175.86,59.49 180.61,58.24 185.36,57.21 190.11,56.2 194.87,58.04 199.62,59.9 204.37,61.71 209.13,63.25 213.88,66.69 218.63,68.69 223.38,69.85 228.14,69.39 232.89,67.7 237.64,64.51 242.4,62.05 247.15,60.07 251.9,61.77 256.66,63.09 261.41,63.1 266.16,64.61 270.92,65.83 275.67,68.47 280.42,69.36 285.17,70.31 289.93,70.69 294.68,71.97 299.43,74.75 304.19,77.05 308.94,79.12 313.69,82.34 318.44,86.06 323.2,88.86 327.95,91.95 332.7,95.68 337.46,97.73 342.21,100.55 346.96,100.27 351.72,98.1 356.47,96.99 361.22,94.53 365.98,91.49 370.73,85.69 375.48,80.7 380.23,76.32 384.99,72.4 389.74,66.77 394.49,61.17 399.25,57.5 404,54.43 408.75,50.67 413.5,48.47 418.26,47.39 423.01,46.19 427.76,44.96 432.52,44.5 437.27,44.44 442.02,46.45 446.78,47.57 451.53,49.23 456.28,51.01 461.04,51.23 465.79,51.1 470.54,51.92 475.29,52.65 480.05,52.07 484.8,52.61 489.55,52.13 494.31,50.94 499.06,49.53 503.81,47.18 508.56,43.68 513.32,41.59 518.07,41.92 522.82,40.92 527.58,42.66 532.33,45.26 537.08,46.96 541.84,49.72 546.59,51.99 551.34,55.16 556.1,60.9 560.85,69.22 565.6,76.82 570.35,84.16 575.11,92.12 579.86,99.88 584.61,108.21 589.37,115.38 594.12,122.61 598.87,130.84 603.62,137.03 608.38,143.53 613.13,148.99 617.88,155.41 622.64,158.4 627.39,159.82 632.14,161.27 636.9,163.82 641.65,166.33 646.4,170 651.15,173.32 655.91,176.44 660.66,179.09 665.41,180.28 670.17,180.88 674.92,180.93 679.67,180.14 684.43,179.7 689.18,179.19 693.93,178.5 698.69,179.23 703.44,179.27 708.19,178.45 712.94,178.56 717.7,180.39 722.45,183.09 727.2,184.4 731.96,184.85 736.71,187.01 741.46,188.73 746.22,189.95 750.97,190.06 755.72,189.92 760.47,190.45 765.23,190.35 769.98,190.54 774.73,193.32 779.49,196.3 784.24,198.41 788.99,200.38 793.75,202.85 798.5,204.78 803.25,207.59 808,209.56 812.76,210.53 817.51,211.52 822.26,213.87 827.02,216.06 831.77,215.83 836.52,215.03 841.27,213.5 846.03,212.09 850.78,209.22 855.53,207.46 860.29,207.41 865.04,207.63 869.79,206.46 874.55,205 879.3,204.19 884.05,201.03 888.81,197.56"/>
</g>
<clipPath id="c1"><rect x="-10" y="292" width="1003.3" height="57.2"/></clipPath>
<g clip-path="url(#c1)">
<rect x="-1.61" y="314.75" width="3.2" height="10.9" fill="#ff0000" opacity="1"/>
<rect x="3.15" y="314.75" width="3.2" height="10.57" fill="#ff0000" opacity="1"/>
<rect x="7.9" y="314.75" width="3.2" height="9.03" fill="#ff0000" opacity="1"/>
<rect x="12.65" y="314.75" width="3.2" height="8.07" fill="#ff0000" opacity="1"/>
<rect x="17.41" y="314.75" width="3.2" height="5.92" fill="#ff0000" opacity="1"/>
<rect x="22.16" y="314.75" width="3.2" height="5.21" fill="#ff0000" opacity="1"/>
<rect x="26.91" y="314.75" width="3.2" height="7.75" fill="#ff0000" opacity="1"/>
<rect x="31.66" y="314.75" width="3.2" height="8.73" fill="#ff0000" opacity="1"/>
<rect x="36.42" y="314.75" width="3.2" height="8.85" fill="#ff0000" opacity="1"/>
<rect x="41.17" y="314.75" width="3.2" height="8.53" fill="#ff0000" opacity="1"/>
<rect x="45.92" y="314.75" width="3.2" height="5.4" fill="#ff0000" opacity="1"/>
<rect x="50.68" y="314.75" width="3.2" height="2.54" fill="#ff0000" opacity="1"/>
<rect x="55.43" y="314.75" width="3.2" height="1.93" fill="#ff0000" opacity="1"/>
<rect x="60.18" y="314.75" width="3.2" height="0.7" fill="#ff0000" opacity="0.36"/>
<rect x="64.94" y="312.71" width="3.2" height="2.04" fill="#00ff00" opacity="1"/>
<rect x="69.69" y="310.61" width="3.2" height="4.14" fill="#00ff00" opacity="1"/>
<rect x="74.44" y="310.49" width="3.2" height="4.26" fill="#00ff00" opacity="1"/>
<rect x="79.2" y="310.03" width="3.2" height="4.72" fill="#00ff00" opacity="1"/>
<rect x="83.95" y="309.78" width="3.2" height="4.97" fill="#00ff00" opacity="1"/>
<rect x="88.7" y="310.68" width="3.2" height="4.07" fill="#00ff00" opacity="1"/>
<rect x="93.45" y="311.13" width="3.2" height="3.62" fill="#00ff00" opacity="1"/>
<rect x="98.21" y="309.94" width="3.2" height="4.81" fill="#00ff00" opacity="1"/>
<rect x="102.96" y="309.88" width="3.2" height="4.87" fill="#00ff00" opacity="1"/>
<rect x="107.71" y="309.25" width="3.2" height="5.5" fill="#00ff00" opacity="1"/>
<rect x="112.47" y="309.66" width="3.2" height="5.09" fill="#00ff00" opacity="1"/>
<rect x="117.22" y="307.55" width="3.2" height="7.2" fill="#00ff00" opacity="1"/>
<rect x="121.97" y="307.32" width="3.2" height="7.43" fill="#00ff00" opacity="1"/>
<rect x="126.72" y="308.22" width="3.2" height="6.53" fill="#00ff00" opacity="1"/>
<rect x="131.48" y="310.27" width="3.2" height="4.48" fill="#00ff00" opacity="1"/>
<rect x="136.23" y="311.67" width="3.2" height="3.08" fill="#00ff00" opacity="1"/>
<rect x="140.98" y="313.45" width="3.2" height="1.3" fill="#00ff00" opacity="1"/>
<rect x="145.74" y="314.05" width="3.2" height="0.7" fill="#00ff00" opacity="0.54"/>
<rect x="150.49" y="313.81" width="3.2" height="0.94" fill="#00ff00" opacity="1"/>
<rect x="155.24" y="311.25" width="3.2" height="3.5" fill="#00ff00" opacity="1"/>
<rect x="160" y="311.68" width="3.2" height="3.07" fill="#00ff00" opacity="1"/>
<rect x="164.75" y="312.14" width="3.2" height="2.61" fill="#00ff00" opacity="1"/>
<rect x="169.5" y="311.93" width="3.2" height="2.82" fill="#00ff00" opacity="1"/>
<rect x="174.26" y="312.16" width="3.2" height="2.59" fill="#00ff00" opacity="1"/>
<rect x="179.01" y="311.73" width="3.2" height="3.02" fill="#00ff00" opacity="1"/>
<rect x="183.76" y="312.84" width="3.2" height="1.91" fill="#00ff00" opacity="1"/>
<rect x="188.51" y="313.5" width="3.2" height="1.25" fill="#00ff00" opacity="1"/>
<rect x="193.27" y="314.75" width="3.2" height="0.94" fill="#ff0000" opacity="1"/>
<rect x="198.02" y="314.75" width="3.2" height="2.87" fill="#ff0000" opacity="1"/>
<rect x="202.77" y="314.75" width="3.2" height="3.17" fill="#ff0000" opacity="1"/>
<rect x="207.53" y="314.75" width="3.2" height="3.51" fill="#ff0000" opacity="1"/>
<rect x="212.28" y="314.75" width="3.2" height="3.14" fill="#ff0000" opacity="1"/>
<rect x="217.03" y="314.75" width="3.2" height="1.9" fill="#ff0000" opacity="1"/>
<rect x="221.78" y="314.75" width="3.2" height="0.79" fill="#ff0000" opacity="0.88"/>
<rect x="226.54" y="314.05" width="3.2" height="0.7" fill="#00ff00" opacity="0.66"/>
<rect x="231.29" y="311.85" width="3.2" height="2.9" fill="#00ff00" opacity="1"/>
<rect x="236.04" y="309.64" width="3.2" height="5.11" fill="#00ff00" opacity="1"/>
<rect x="240.8" y="309" width="3.2" height="5.75" fill="#00ff00" opacity="1"/>
<rect x="245.55" y="308.48" width="3.2" height="6.27" fill="#00ff00" opacity="1"/>
<rect x="250.3" y="310.37" width="3.2" height="4.38" fill="#00ff00" opacity="1"/>
<rect x="255.06" y="313.26" width="3.2" height="1.49" fill="#00ff00" opacity="1"/>
<rect x="259.81" y="313.76" width="3.2" height="0.99" fill="#00ff00" opacity="1"/>
<rect x="264.56" y="314.75" width="3.2" height="0.7" fill="#ff0000" opacity="0.55"/>
<rect x="269.31" y="314.75" width="3.2" height="1.32" fill="#ff0000" opacity="1"/>
<rect x="274.07" y="314.75" width="3.2" height="2.68" fill="#ff0000" opacity="1"/>
<rect x="278.82" y="314.75" width="3.2" height="2.69" fill="#ff0000" opacity="1"/>
<rect x="283.57" y="314.75" width="3.2" height="2.48" fill="#ff0000" opacity="1"/>
<rect x="288.33" y="314.75" width="3.2" height="3.3" fill="#ff0000" opacity="1"/>
<rect x="293.08" y="314.75" width="3.2" height="5.25" fill="#ff0000" opacity="1"/>
<rect x="297.83" y="314.75" width="3.2" height="7.13" fill="#ff0000" opacity="1"/>
<rect x="302.59" y="314.75" width="3.2" height="7.68" fill="#ff0000" opacity="1"/>
<rect x="307.34" y="314.75" width="3.2" height="6.95" fill="#ff0000" opacity="1"/>
<rect x="312.09" y="314.75" width="3.2" height="6.54" fill="#ff0000" opacity="1"/>
<rect x="316.84" y="314.75" width="3.2" height="6.22" fill="#ff0000" opacity="1"/>
<rect x="321.6" y="314.75" width="3.2" height="3.96" fill="#ff0000" opacity="1"/>
<rect x="326.35" y="314.75" width="3.2" height="1.13" fill="#ff0000" opacity="1"/>
<rect x="331.1" y="313.75" width="3.2" height="1" fill="#00ff00" opacity="1"/>
<rect x="335.86" y="310.99" width="3.2" height="3.76" fill="#00ff00" opacity="1"/>
<rect x="340.61" y="309.81" width="3.2" height="4.94" fill="#00ff00" opacity="1"/>
<rect x="345.36" y="307.64" width="3.2" height="7.11" fill="#00ff00" opacity="1"/>
<rect x="350.12" y="305.9" width="3.2" height="8.85" fill="#00ff00" opacity="1"/>
<rect x="354.87" y="305.02" width="3.2" height="9.73" fill="#00ff00" opacity="1"/>
<rect x="359.62" y="304.52" width="3.2" height="10.23" fill="#00ff00" opacity="1"/>
<rect x="364.38" y="303.99" width="3.2" height="10.76" fill="#00ff00" opacity="1"/>
<rect x="369.13" y="302.04" width="3.2" height="12.71" fill="#00ff00" opacity="1"/>
<rect x="373.88" y="301.72" width="3.2" height="13.03" fill="#00ff00" opacity="1"/>
<rect x="378.63" y="302.89" width="3.2" height="11.86" fill="#00ff00" opacity="1"/>
<rect x="383.39" y="305.94" width="3.2" height="8.81" fill="#00ff00" opacity="1"/>
<rect x="388.14" y="308.14" width="3.2" height="6.61" fill="#00ff00" opacity="1"/>
<rect x="392.89" y="310.99" width="3.2" height="3.76" fill="#00ff00" opacity="1"/>
<rect x="397.65" y="314.75" width="3.2" height="0.7" fill="#ff0000" opacity="0.35"/>
<rect x="402.4" y="314.75" width="3.2" height="3.06" fill="#ff0000" opacity="1"/>
<rect x="407.15" y="314.75" width="3.2" height="4.47" fill="#ff0000" opacity="1"/>
<rect x="411.9" y="314.75" width="3.2" height="7.37" fill="#ff0000" opacity="1"/>
<rect x="416.66" y="314.75" width="3.2" height="8.52" fill="#ff0000" opacity="1"/>
<rect x="421.41" y="314.75" width="3.2" height="7.67" fill="#ff0000" opacity="1"/>
<rect x="426.16" y="314.75" width="3.2" height="6.59" fill="#ff0000" opacity="1"/>
<rect x="430.92" y="314.75" width="3.2" height="5.13" fill="#ff0000" opacity="1"/>
<rect x="435.67" y="314.75" width="3.2" height="4.89" fill="#ff0000" opacity="1"/>
<rect x="440.42" y="314.75" width="3.2" height="5.23" fill="#ff0000" opacity="1"/>
<rect x="445.18" y="314.75" width="3.2" height="3.54" fill="#ff0000" opacity="1"/>
<rect x="449.93" y="314.75" width="3.2" height="2.71" fill="#ff0000" opacity="1"/>
<rect x="454.68" y="314.75" width="3.2" height="1.76" fill="#ff0000" opacity="1"/>
<rect x="459.44" y="313.34" width="3.2" height="1.41" fill="#00ff00" opacity="1"/>
<rect x="464.19" y="308.84" width="3.2" height="5.91" fill="#00ff00" opacity="1"/>
<rect x="468.94" y="307.61" width="3.2" height="7.14" fill="#00ff00" opacity="1"/>
<rect x="473.69" y="307.76" width="3.2" height="6.99" fill="#00ff00" opacity="1"/>
<rect x="478.45" y="308.4" width="3.2" height="6.35" fill="#00ff00" opacity="1"/>
<rect x="483.2" y="310.17" width="3.2" height="4.58" fill="#00ff00" opacity="1"/>
<rect x="487.95" y="311.43" width="3.2" height="3.32" fill="#00ff00" opacity="1"/>
<rect x="492.71" y="313.64" width="3.2" height="1.11" fill="#00ff00" opacity="1"/>
<rect x="506.96" y="314.75" width="3.2" height="0.7" fill="#ff0000" opacity="0.52"/>
<rect x="511.72" y="314.75" width="3.2" height="2.15" fill="#ff0000" opacity="1"/>
<rect x="516.47" y="314.75" width="3.2" height="4.67" fill="#ff0000" opacity="1"/>
<rect x="521.22" y="314.75" width="3.2" height="4.38" fill="#ff0000" opacity="1"/>
<rect x="525.98" y="314.75" width="3.2" height="6.59" fill="#ff0000" opacity="1"/>
<rect x="530.73" y="314.75" width="3.2" height="9.55" fill="#ff0000" opacity="1"/>
<rect x="535.48" y="314.75" width="3.2" height="10.64" fill="#ff0000" opacity="1"/>
<rect x="540.24" y="314.75" width="3.2" height="10.3" fill="#ff0000" opacity="1"/>
<rect x="544.99" y="314.75" width="3.2" height="9.36" fill="#ff0000" opacity="1"/>
<rect x="549.74" y="314.75" width="3.2" height="8.97" fill="#ff0000" opacity="1"/>
<rect x="554.5" y="314.75" width="3.2" height="8.58" fill="#ff0000" opacity="1"/>
<rect x="559.25" y="314.75" width="3.2" height="8.11" fill="#ff0000" opacity="1"/>
<rect x="564" y="314.75" width="3.2" height="7.75" fill="#ff0000" opacity="1"/>
<rect x="568.75" y="314.75" width="3.2" height="7.2" fill="#ff0000" opacity="1"/>
<rect x="573.51" y="314.75" width="3.2" height="7.16" fill="#ff0000" opacity="1"/>
<rect x="578.26" y="314.75" width="3.2" height="7.36" fill="#ff0000" opacity="1"/>
<rect x="583.01" y="314.75" width="3.2" height="7.4" fill="#ff0000" opacity="1"/>
<rect x="587.77" y="314.75" width="3.2" height="6.7" fill="#ff0000" opacity="1"/>
<rect x="592.52" y="314.75" width="3.2" height="5.61" fill="#ff0000" opacity="1"/>
<rect x="597.27" y="314.75" width="3.2" height="4.19" fill="#ff0000" opacity="1"/>
<rect x="602.02" y="314.75" width="3.2" height="1.38" fill="#ff0000" opacity="1"/>
<rect x="606.78" y="314.75" width="3.2" height="0.88" fill="#ff0000" opacity="0.98"/>
<rect x="611.53" y="314.75" width="3.2" height="0.7" fill="#ff0000" opacity="0.68"/>
<rect x="616.28" y="314.05" width="3.2" height="0.7" fill="#00ff00" opacity="0.48"/>
<rect x="621.04" y="312.16" width="3.2" height="2.59" fill="#00ff00" opacity="1"/>
<rect x="625.79" y="310.83" width="3.2" height="3.92" fill="#00ff00" opacity="1"/>
<rect x="630.54" y="309.73" width="3.2" height="5.02" fill="#00ff00" opacity="1"/>
<rect x="635.3" y="309.87" width="3.2" height="4.88" fill="#00ff00" opacity="1"/>
<rect x="640.05" y="309.82" width="3.2" height="4.93" fill="#00ff00" opacity="1"/>
<rect x="644.8" y="311.9" width="3.2" height="2.85" fill="#00ff00" opacity="1"/>
<rect x="649.55" y="313.17" width="3.2" height="1.58" fill="#00ff00" opacity="1"/>
<rect x="654.31" y="313.96" width="3.2" height="0.79" fill="#00ff00" opacity="0.88"/>
<rect x="659.06" y="314.05" width="3.2" height="0.7" fill="#00ff00" opacity="0.54"/>
<rect x="663.81" y="312.87" width="3.2" height="1.88" fill="#00ff00" opacity="1"/>
<rect x="668.57" y="312.1" width="3.2" height="2.65" fill="#00ff00" opacity="1"/>
<rect x="673.32" y="311.71" width="3.2" height="3.04" fill="#00ff00" opacity="1"/>
<rect x="678.07" y="311.02" width="3.2" height="3.73" fill="#00ff00" opacity="1"/>
<rect x="682.83" y="310.89" width="3.2" height="3.86" fill="#00ff00" opacity="1"/>
<rect x="687.58" y="310.67" width="3.2" height="4.08" fill="#00ff00" opacity="1"/>
<rect x="692.33" y="310.21" width="3.2" height="4.54" fill="#00ff00" opacity="1"/>
<rect x="697.09" y="310.17" width="3.2" height="4.58" fill="#00ff00" opacity="1"/>
<rect x="701.84" y="311.06" width="3.2" height="3.69" fill="#00ff00" opacity="1"/>
<rect x="706.59" y="311.08" width="3.2" height="3.67" fill="#00ff00" opacity="1"/>
<rect x="711.34" y="311.62" width="3.2" height="3.13" fill="#00ff00" opacity="1"/>
<rect x="716.1" y="312.68" width="3.2" height="2.07" fill="#00ff00" opacity="1"/>
<rect x="720.85" y="314.05" width="3.2" height="0.7" fill="#00ff00" opacity="0.3"/>
<rect x="725.6" y="313.7" width="3.2" height="1.05" fill="#00ff00" opacity="1"/>
<rect x="730.36" y="313.03" width="3.2" height="1.72" fill="#00ff00" opacity="1"/>
<rect x="735.11" y="314.05" width="3.2" height="0.7" fill="#00ff00" opacity="0.46"/>
<rect x="739.86" y="314.75" width="3.2" height="1.89" fill="#ff0000" opacity="1"/>
<rect x="744.62" y="314.75" width="3.2" height="2.6" fill="#ff0000" opacity="1"/>
<rect x="749.37" y="314.75" width="3.2" height="1.67" fill="#ff0000" opacity="1"/>
<rect x="754.12" y="314.75" width="3.2" height="0.7" fill="#ff0000" opacity="0.64"/>
<rect x="758.87" y="313.84" width="3.2" height="0.91" fill="#00ff00" opacity="1"/>
<rect x="763.63" y="312.34" width="3.2" height="2.41" fill="#00ff00" opacity="1"/>
<rect x="768.38" y="311.88" width="3.2" height="2.87" fill="#00ff00" opacity="1"/>
<rect x="773.13" y="314.05" width="3.2" height="0.7" fill="#00ff00" opacity="0.68"/>
<rect x="777.89" y="314.75" width="3.2" height="1.23" fill="#ff0000" opacity="1"/>
<rect x="782.64" y="314.75" width="3.2" height="1.08" fill="#ff0000" opacity="1"/>
<rect x="787.39" y="314.75" width="3.2" height="0.7" fill="#ff0000" opacity="0.3"/>
<rect x="792.14" y="314.75" width="3.2" height="0.7" fill="#ff0000" opacity="0.42"/>
<rect x="796.9" y="314.75" width="3.2" height="0.7" fill="#ff0000" opacity="0.57"/>
<rect x="801.65" y="314.75" width="3.2" height="0.86" fill="#ff0000" opacity="0.96"/>
<rect x="806.4" y="314.75" width="3.2" height="0.7" fill="#ff0000" opacity="0.48"/>
<rect x="811.16" y="314.05" width="3.2" height="0.7" fill="#00ff00" opacity="0.47"/>
<rect x="825.42" y="314.05" width="3.2" height="0.7" fill="#00ff00" opacity="0.48"/>
<rect x="830.17" y="312.95" width="3.2" height="1.8" fill="#00ff00" opacity="1"/>
<rect x="834.92" y="313.02" width="3.2" height="1.73" fill="#00ff00" opacity="1"/>
<rect x="839.67" y="311.69" width="3.2" height="3.06" fill="#00ff00" opacity="1"/>
<rect x="844.43" y="309.94" width="3.2" height="4.81" fill="#00ff00" opacity="1"/>
<rect x="849.18" y="307.06" width="3.2" height="7.69" fill="#00ff00" opacity="1"/>
<rect x="853.93" y="306.17" width="3.2" height="8.58" fill="#00ff00" opacity="1"/>
<rect x="858.69" y="307.45" width="3.2" height="7.3" fill="#00ff00" opacity="1"/>
<rect x="863.44" y="309.37" width="3.2" height="5.38" fill="#00ff00" opacity="1"/>
<rect x="868.19" y="311.76" width="3.2" height="2.99" fill="#00ff00" opacity="1"/>
<rect x="872.95" y="313.59" width="3.2" height="1.16" fill="#00ff00" opacity="1"/>
<rect x="877.7" y="314.05" width="3.2" height="0.7" fill="#00ff00" opacity="0.41"/>
<rect x="882.45" y="311.69" width="3.2" height="3.06" fill="#00ff00" opacity="1"/>
<rect x="887.21" y="310.55" width="3.2" height="4.2" fill="#00ff00" opacity="1"/>
<polyline fill="none" stroke="#f0935c" stroke-width="0.6" stroke-linejoin="round"  points="0,321.27 4.75,323.91 9.5,326.17 14.25,328.19 19.01,329.67 23.76,330.97 28.51,332.91 33.27,335.09 38.02,337.3 42.77,339.43 47.52,340.79 52.28,341.42 57.03,341.9 61.78,341.98 66.54,341.48 71.29,340.44 76.04,339.37 80.8,338.2 85.55,336.95 90.3,335.94 95.05,335.03 99.81,333.83 104.56,332.61 109.31,331.23 114.07,329.96 118.82,328.16 123.57,326.3 128.32,324.67 133.08,323.55 137.83,322.78 142.58,322.46 147.34,322.34 152.09,322.1 156.84,321.22 161.6,320.46 166.35,319.8 171.1,319.1 175.86,318.45 180.61,317.7 185.36,317.22 190.11,316.91 194.87,317.14 199.62,317.86 204.37,318.66 209.13,319.53 213.88,320.32 218.63,320.79 223.38,320.99 228.14,320.84 232.89,320.12 237.64,318.84 242.4,317.4 247.15,315.84 251.9,314.74 256.66,314.37 261.41,314.12 266.16,314.25 270.92,314.58 275.67,315.25 280.42,315.92 285.17,316.54 289.93,317.37 294.68,318.68 299.43,320.46 304.19,322.38 308.94,324.12 313.69,325.75 318.44,327.31 323.2,328.3 327.95,328.58 332.7,328.33 337.46,327.39 342.21,326.16 346.96,324.38 351.72,322.17 356.47,319.74 361.22,317.18 365.98,314.49 370.73,311.31 375.48,308.05 380.23,305.09 384.99,302.88 389.74,301.23 394.49,300.29 399.25,300.37 404,301.13 408.75,302.25 413.5,304.09 418.26,306.22 423.01,308.14 427.76,309.79 432.52,311.07 437.27,312.29 442.02,313.6 446.78,314.49 451.53,315.16 456.28,315.6 461.04,315.25 465.79,313.77 470.54,311.99 475.29,310.24 480.05,308.65 484.8,307.51 489.55,306.68 494.31,306.4 499.06,306.46 503.81,306.41 508.56,306.53 513.32,307.07 518.07,308.23 522.82,309.33 527.58,310.98 532.33,313.37 537.08,316.02 541.84,318.6 546.59,320.94 551.34,323.18 556.1,325.33 560.85,327.36 565.6,329.29 570.35,331.09 575.11,332.88 579.86,334.72 584.61,336.57 589.37,338.25 594.12,339.65 598.87,340.7 603.62,341.04 608.38,341.26 613.13,341.42 617.88,341.31 622.64,340.66 627.39,339.68 632.14,338.43 636.9,337.21 641.65,335.97 646.4,335.26 651.15,334.87 655.91,334.67 660.66,334.55 665.41,334.08 670.17,333.42 674.92,332.66 679.67,331.72 684.43,330.76 689.18,329.74 693.93,328.6 698.69,327.46 703.44,326.54 708.19,325.62 712.94,324.84 717.7,324.32 722.45,324.25 727.2,323.99 731.96,323.56 736.71,323.45 741.46,323.93 746.22,324.58 750.97,325 755.72,325.14 760.47,324.91 765.23,324.31 769.98,323.59 774.73,323.44 779.49,323.75 784.24,324.02 788.99,324.09 793.75,324.18 798.5,324.31 803.25,324.53 808,324.63 812.76,324.53 817.51,324.55 822.26,324.56 827.02,324.45 831.77,324 836.52,323.57 841.27,322.8 846.03,321.6 850.78,319.68 855.53,317.53 860.29,315.71 865.04,314.36 869.79,313.62 874.55,313.33 879.3,313.23 884.05,312.47 888.81,311.42"/>
<polyline fill="none" stroke="#5566ff" stroke-width="0.6" stroke-linejoin="round"  points="0,332.17 4.75,334.48 9.5,335.2 14.25,336.26 19.01,335.59 23.76,336.19 28.51,340.66 33.27,343.82 38.02,346.15 42.77,347.96 47.52,346.19 52.28,343.96 57.03,343.84 61.78,342.31 66.54,339.44 71.29,336.3 76.04,335.12 80.8,333.48 85.55,331.98 90.3,331.87 95.05,331.41 99.81,329.01 104.56,327.74 109.31,325.74 114.07,324.87 118.82,320.97 123.57,318.87 128.32,318.14 133.08,319.07 137.83,319.71 142.58,321.16 147.34,321.85 152.09,321.15 156.84,317.72 161.6,317.39 166.35,317.19 171.1,316.28 175.86,315.86 180.61,314.68 185.36,315.32 190.11,315.66 194.87,318.09 199.62,320.73 204.37,321.83 209.13,323.04 213.88,323.46 218.63,322.69 223.38,321.78 228.14,320.25 232.89,317.22 237.64,313.73 242.4,311.66 247.15,309.57 251.9,310.37 256.66,312.88 261.41,313.14 266.16,314.74 270.92,315.89 275.67,317.93 280.42,318.61 285.17,319.02 289.93,320.67 294.68,323.93 299.43,327.59 304.19,330.06 308.94,331.07 313.69,332.3 318.44,333.53 323.2,332.26 327.95,329.71 332.7,327.33 337.46,323.64 342.21,321.22 346.96,317.27 351.72,313.32 356.47,310.01 361.22,306.95 365.98,303.73 370.73,298.6 375.48,295.02 380.23,293.22 384.99,294.07 389.74,294.62 394.49,296.53 399.25,300.68 404,304.19 408.75,306.73 413.5,311.46 418.26,314.74 423.01,315.81 427.76,316.38 432.52,316.2 437.27,317.18 442.02,318.84 446.78,318.03 451.53,317.87 456.28,317.36 461.04,313.84 465.79,307.86 470.54,304.85 475.29,303.25 480.05,302.3 484.8,302.93 489.55,303.36 494.31,305.29 499.06,306.7 503.81,306.22 508.56,307 513.32,309.22 518.07,312.9 522.82,313.71 527.58,317.57 532.33,322.92 537.08,326.66 541.84,328.89 546.59,330.31 551.34,332.15 556.1,333.91 560.85,335.47 565.6,337.04 570.35,338.3 575.11,340.05 579.86,342.08 584.61,343.98 589.37,344.95 594.12,345.26 598.87,344.88 603.62,342.43 608.38,342.14 613.13,342.03 617.88,340.87 622.64,338.07 627.39,335.76 632.14,333.41 636.9,332.32 641.65,331.04 646.4,332.41 651.15,333.28 655.91,333.87 660.66,334.06 665.41,332.2 670.17,330.77 674.92,329.62 679.67,328 684.43,326.9 689.18,325.66 693.93,324.06 698.69,322.88 703.44,322.85 708.19,321.95 712.94,321.71 717.7,322.25 722.45,323.98 727.2,322.94 731.96,321.83 736.71,323.04 741.46,325.82 746.22,327.18 750.97,326.67 755.72,325.71 760.47,324 765.23,321.9 769.98,320.72 774.73,322.83 779.49,324.98 784.24,325.1 788.99,324.36 793.75,324.56 798.5,324.83 803.25,325.39 808,325.06 812.76,324.1 817.51,324.65 822.26,324.59 827.02,324.02 831.77,322.2 836.52,321.84 841.27,319.75 846.03,316.79 850.78,311.99 855.53,308.96 860.29,308.41 865.04,308.98 869.79,310.63 874.55,312.16 879.3,312.86 884.05,309.4 888.81,307.22"/>
</g>
<rect x="-10" y="353.9" width="898.81" height="8.9" fill="#00ff00" fill-opacity="0.5"/>
<rect x="-10" y="374" width="898.81" height="9" fill="#ff0000" fill-opacity="0.5"/>
<path d="M-10 362.8H888.81" stroke="#2f8a2f" stroke-width="0.5"/>
<path d="M-10 373.9H888.81" stroke="#7a3030" stroke-width="0.5"/>
<rect x="-10" y="353.9" width="898.81" height="8.9" fill="none" stroke="#2f8a2f" stroke-width="0.5" opacity="0.7"/>
<rect x="-10" y="374" width="898.81" height="9" fill="none" stroke="#8a2f2f" stroke-width="0.5" opacity="0.7"/>
<path d="M0.3 353.6V362.8" stroke="#2c8c2c" stroke-width="0.8"/>
<path d="M0.3 373.9V383" stroke="#8c2c2c" stroke-width="0.8"/>
<path d="M888.81 373.9V383" stroke="#7a2a2a" stroke-width="0.5"/>
<clipPath id="c3"><rect x="-10" y="387.3" width="1003.3" height="33.3"/></clipPath>
<g clip-path="url(#c3)"><polyline fill="none" stroke="#5f6fff" stroke-width="0.6" stroke-linejoin="round"  points="0,417.1 4.75,417.92 9.5,420.26 14.25,416.96 19.01,409 23.76,409.76 28.51,418.86 33.27,417.26 38.02,417.9 42.77,417.9 47.52,416.11 52.28,416 57.03,414.5 61.78,412.04 66.54,410.48 71.29,410.9 76.04,410.37 80.8,407.2 85.55,407.1 90.3,405.3 95.05,405.9 99.81,402.4 104.56,405.02 109.31,402.48 114.07,405.81 118.82,398.66 123.57,393.53 128.32,395.14 133.08,397.29 137.83,396.69 142.58,402.79 147.34,402.97 152.09,397.99 156.84,395.26 161.6,401.25 166.35,402.37 171.1,398.77 175.86,400.04 180.61,398.69 185.36,399.18 190.11,399.23 194.87,405.64 199.62,405.67 204.37,405.58 209.13,404.96 213.88,409.22 218.63,405.99 223.38,404.1 228.14,400.46 232.89,397.7 237.64,394.34 242.4,395.99 247.15,397.04 251.9,405.33 256.66,404.45 261.41,401.53 266.16,404.91 270.92,404.23 275.67,407.42 280.42,403.51 285.17,403.63 289.93,402.35 294.68,404.36 299.43,407.75 304.19,406.67 308.94,406.15 313.69,408.74 318.44,409.84 323.2,407.79 327.95,408.45 332.7,409.87 337.46,406.1 342.21,407.85 346.96,400.87 351.72,396.61 356.47,399.02 361.22,395.96 365.98,394.68 370.73,388.48 375.48,390.3 380.23,391.66 384.99,392.68 389.74,388.87 394.49,388.92 399.25,393.25 404,394.6 408.75,393.06 413.5,396.57 418.26,399.06 423.01,398.8 427.76,398.75 432.52,400.47 437.27,401.36 442.02,406 446.78,404.03 451.53,405.22 456.28,405.5 461.04,402.01 465.79,401.2 470.54,403.35 475.29,403.13 480.05,400.2 484.8,402.72 489.55,400.4 494.31,398.83 499.06,398.34 503.81,396.2 508.56,393.64 513.32,396.81 518.07,402.24 522.82,399.27 527.58,405.4 532.33,407.34 537.08,405.32 541.84,407.69 546.59,406.6 551.34,408.63 556.1,414.39 560.85,420.19 565.6,418.58 570.35,417.99 575.11,419.37 579.86,418.92 584.61,420.23 589.37,417.59 594.12,417.75 598.87,420 603.62,415.4 608.38,416.1 613.13,413.76 617.88,415.92 622.64,408.21 627.39,404.69 632.14,404.76 636.9,407.23 641.65,407.14 646.4,409.75 651.15,408.94 655.91,408.5 660.66,407.47 665.41,404.16 670.17,402.87 674.92,401.59 679.67,399.73 684.43,400.53 689.18,400.34 693.93,399.95 698.69,403.14 703.44,401.6 708.19,399.66 712.94,401.75 717.7,405.6 722.45,407.58 727.2,404.42 731.96,402.53 736.71,406.35 741.46,405.35 746.22,404.24 750.97,401.75 755.72,401.17 760.47,402.7 765.23,401.28 769.98,401.92 774.73,407.76 779.49,408.18 784.24,406.25 788.99,405.91 793.75,407.06 798.5,405.82 803.25,407.83 808,405.92 812.76,403.68 817.51,403.72 822.26,406.77 827.02,406.43 831.77,400.98 836.52,399.71 841.27,398.05 846.03,398.33 850.78,395.07 855.53,397.53 860.29,401.39 865.04,402.01 869.79,398.85 874.55,398.23 879.3,399.69 884.05,394.39 888.81,393.72"/></g>
<polyline fill="none" stroke="#5f6fff" stroke-width="0.6" stroke-linejoin="round"  points="0,374.29 4.75,374.47 9.5,373.39 14.25,373.83 19.01,372.28 23.76,373.18 28.51,375.33 33.27,375.27 38.02,375.36 42.77,375.52 47.52,372.12 52.28,371.6 57.03,372.86 61.78,371.67 66.54,370.32 71.29,369.72 76.04,370.9 80.8,370.4 85.55,370.4 90.3,371.42 95.05,371.21 99.81,369.14 104.56,369.85 109.31,368.93 114.07,369.72 118.82,366.78 123.57,367.79 128.32,368.7 133.08,370.02 137.83,369.98 142.58,370.84 147.34,370.41 152.09,369.11 156.84,366.52 161.6,368.75 166.35,368.83 171.1,368.15 175.86,368.46 180.61,367.64 185.36,369.2 190.11,369.04 194.87,370.98 199.62,371.6 204.37,370.54 209.13,370.91 213.88,370.37 218.63,369.2 223.38,368.94 228.14,368.08 232.89,366.26 237.64,365.28 242.4,366.15 247.15,365.67 251.9,368.52 256.66,370.27 261.41,368.48 266.16,369.73 270.92,369.62 275.67,370.64 280.42,369.65 285.17,369.57 289.93,370.86 294.68,372.48 299.43,373.31 304.19,372.98 308.94,371.97 313.69,372.47 318.44,372.84 323.2,370.19 327.95,368.7 332.7,368.48 337.46,366.79 342.21,367.46 346.96,365.68 351.72,365.03 356.47,364.84 361.22,364.41 365.98,363.71 370.73,361.95 375.48,362.32 380.23,363.46 384.99,366.06 389.74,365.76 394.49,367.23 399.25,369.66 404,369.74 408.75,369.37 413.5,371.66 418.26,371.12 423.01,369.45 427.76,369.19 432.52,368.54 437.27,369.69 442.02,370.54 446.78,368.31 451.53,368.82 456.28,368.45 461.04,365.66 465.79,363.57 470.54,365.25 475.29,365.89 480.05,366.07 484.8,367.32 489.55,367.15 494.31,368.6 499.06,368.39 503.81,366.85 508.56,367.94 513.32,369.37 518.07,370.91 522.82,368.88 527.58,371.21 532.33,372.56 537.08,372.23 541.84,371.67 546.59,371.49 551.34,372.11 556.1,372.45 560.85,372.72 565.6,373.12 570.35,373.32 575.11,374.02 579.86,374.62 584.61,375 589.37,374.71 594.12,374.52 598.87,374.04 603.62,371.14 608.38,372.85 613.13,373.17 617.88,372.05 622.64,369.91 627.39,370.07 632.14,369.66 636.9,370.72 641.65,370.39 646.4,372.82 651.15,372.82 655.91,372.93 660.66,372.82 665.41,369.97 670.17,370.24 674.92,370.41 679.67,369.54 684.43,369.98 689.18,369.58 693.93,368.73 698.69,369.01 703.44,370.53 708.19,369.12 712.94,369.96 717.7,371.09 722.45,372.74 727.2,369.04 731.96,368.76 736.71,371.25 741.46,372.96 746.22,371.95 750.97,370.05 755.72,369.53 760.47,368.52 765.23,367.77 769.98,368.44 774.73,371.56 779.49,372.04 784.24,370.24 788.99,369.41 793.75,370.28 798.5,370.49 803.25,370.94 808,370.07 812.76,369.29 817.51,370.81 822.26,370.29 827.02,369.71 831.77,368.08 836.52,369.46 841.27,367.43 846.03,366.17 850.78,364.17 855.53,365.07 860.29,367.12 865.04,368.09 869.79,369.2 874.55,369.4 879.3,368.8 884.05,365.25 888.81,365.77"/>
<rect x="0.6" y="0.3" width="992.5" height="288.1" fill="none" stroke="#e3e6f2" stroke-width="1"/>
<rect x="0.6" y="292.5" width="992.5" height="56.4" fill="none" stroke="#e3e6f2" stroke-width="1"/>
<rect x="0.6" y="352.6" width="992.5" height="30.5" fill="none" stroke="#e3e6f2" stroke-width="1"/>
<rect x="0.6" y="387.5" width="992.5" height="33.2" fill="none" stroke="#e3e6f2" stroke-width="1"/>
<rect x="492" y="289.7" width="8.9" height="2.4" rx="0.4" fill="#b0aeac"/>
<rect x="492" y="350.1" width="8.9" height="2.4" rx="0.4" fill="#b0aeac"/>
<rect x="492" y="384.65" width="8.9" height="2.4" rx="0.4" fill="#b0aeac"/>
<rect x="2" y="2.3" width="34.5" height="9.5" fill="#000" fill-opacity="0.56"/>
<rect x="2" y="2.3" width="1.6" height="9.5" fill="#3d8a78"/>
<text x="7.3" y="9.2" font-size="4.8" font-weight="bold" fill="#fff">AUD/USD</text>
<rect x="2" y="14" width="37.4" height="9.5" fill="#000" fill-opacity="0.56"/>
<rect x="2" y="14" width="1.6" height="9.5" fill="#2040ff"/>
<text x="7.3" y="20.9" font-size="4.8" font-weight="bold" fill="#fff">SMA (20,0)</text>
<rect x="2" y="26" width="37.2" height="9.3" fill="#000" fill-opacity="0.56"/>
<rect x="2" y="26" width="1.6" height="9.3" fill="#f07820"/>
<text x="7.3" y="32.8" font-size="4.8" font-weight="bold" fill="#fff">SMA (55,0)</text>
<rect x="2" y="37.7" width="40" height="9.3" fill="#000" fill-opacity="0.56"/>
<rect x="2" y="37.7" width="1.6" height="9.3" fill="#70c020"/>
<text x="7.3" y="44.5" font-size="4.8" font-weight="bold" fill="#fff">SMA (200,0)</text>
<rect x="2" y="295" width="48" height="8.8" fill="#000" fill-opacity="0.56"/>
<rect x="2" y="295" width="1.6" height="8.8" fill="#2040ff"/>
<text x="7.3" y="301.55" font-size="4.8" font-weight="bold" fill="#fff">MACD (12,26,9)</text>
<rect x="2" y="355.3" width="48.6" height="9.1" fill="#000" fill-opacity="0.56"/>
<rect x="2" y="355.3" width="1.6" height="9.1" fill="#10e010"/>
<text x="7.3" y="362" font-size="4.8" font-weight="bold" fill="#fff">RSI (14,70,30,1)</text>
<rect x="2" y="389.7" width="35" height="9.3" fill="#000" fill-opacity="0.56"/>
<rect x="2" y="389.7" width="1.6" height="9.3" fill="#2040ff"/>
<text x="7.3" y="396.5" font-size="4.8" font-weight="bold" fill="#fff">MOM (20)</text>
<g font-size="4.7" fill="#3a3a3a">
<text x="996.6" y="5.45">0.6825</text>
<text x="996.6" y="16.58">0.6800</text>
<text x="996.6" y="27.71">0.6775</text>
<text x="996.6" y="38.84">0.6750</text>
<text x="996.6" y="49.97">0.6725</text>
<text x="996.6" y="61.1">0.6700</text>
<text x="996.6" y="72.23">0.6675</text>
<text x="996.6" y="83.36">0.6650</text>
<text x="996.6" y="94.49">0.6625</text>
<text x="996.6" y="105.62">0.6600</text>
<text x="996.6" y="116.75">0.6575</text>
<text x="996.6" y="127.88">0.6550</text>
<text x="996.6" y="139.01">0.6525</text>
<text x="996.6" y="150.14" opacity="0.6">0.6500</text>
<text x="996.6" y="161.27">0.6475</text>
<text x="996.6" y="172.4">0.6450</text>
<text x="996.6" y="183.53">0.6425</text>
<text x="996.6" y="194.66">0.6400</text>
<text x="996.6" y="205.79">0.6375</text>
<text x="996.6" y="216.92">0.6350</text>
<text x="996.6" y="228.05">0.6325</text>
<text x="996.6" y="239.18">0.6300</text>
<text x="996.6" y="250.31">0.6275</text>
<text x="996.6" y="261.44">0.6250</text>
<text x="996.6" y="272.57">0.6225</text>
<text x="996.6" y="283.7">0.6200</text>
<text x="996.6" y="297.35">0.0050</text>
<text x="996.6" y="307.1">0.0025</text>
<text x="995.8" y="316.6">-0.0000</text>
<text x="995.8" y="326.85">-0.0025</text>
<text x="995.8" y="336.35">-0.0050</text>
<text x="995.8" y="346.35">-0.0075</text>
<text x="996.6" y="370.35">50.0000</text><text x="996.6" y="385.3">0.0000</text>
<text x="996.6" y="393.35">0.0200</text>
<text x="996.6" y="403.35">0.0000</text>
<text x="995.8" y="413.35">-0.0200</text>
</g>
<path d="M994.8 151.3L997.4 148H1018.6V154.6H997.4Z" fill="#2c4a7c"/>
<text x="997.6" y="153.1" font-size="4.7" font-weight="bold" fill="#fff">0.649340</text>
<text x="9.5" y="428.1" font-size="4.7" text-anchor="middle" font-weight="bold" fill="#333">Mar</text>
<text x="71.29" y="428.1" font-size="4.7" text-anchor="middle" fill="#666">20</text>
<text x="118.82" y="428.1" font-size="4.7" text-anchor="middle" font-weight="bold" fill="#333">Apr</text>
<text x="166.35" y="428.1" font-size="4.7" text-anchor="middle" fill="#666">17</text>
<text x="213.88" y="428.1" font-size="4.7" text-anchor="middle" font-weight="bold" fill="#333">May</text>
<text x="261.41" y="428.1" font-size="4.7" text-anchor="middle" fill="#666">15</text>
<text x="323.2" y="428.1" font-size="4.7" text-anchor="middle" font-weight="bold" fill="#333">Jun</text>
<text x="380.23" y="428.1" font-size="4.7" text-anchor="middle" fill="#666">19</text>
<text x="427.76" y="428.1" font-size="4.7" text-anchor="middle" font-weight="bold" fill="#333">Jul</text>
<text x="475.29" y="428.1" font-size="4.7" text-anchor="middle" fill="#666">17</text>
<text x="527.58" y="428.1" font-size="4.7" text-anchor="middle" font-weight="bold" fill="#333">Aug</text>
<text x="570.35" y="428.1" font-size="4.7" text-anchor="middle" fill="#666">14</text>
<text x="603.62" y="428.1" font-size="4.7" text-anchor="middle" fill="#666">23</text>
<text x="636.9" y="428.1" font-size="4.7" text-anchor="middle" font-weight="bold" fill="#333">Sep</text>
<text x="689.18" y="428.1" font-size="4.7" text-anchor="middle" fill="#666">18</text>
<text x="736.71" y="428.1" font-size="4.7" text-anchor="middle" font-weight="bold" fill="#333">Oct</text>
<text x="784.24" y="428.1" font-size="4.7" text-anchor="middle" fill="#666">16</text>
<text x="841.27" y="428.1" font-size="4.7" text-anchor="middle" font-weight="bold" fill="#333">Nov</text>
<text x="888.81" y="428.1" font-size="4.7" text-anchor="middle" fill="#666">15</text>
<text x="945.84" y="428.1" font-size="4.7" text-anchor="middle" font-weight="bold" fill="#5a5a5a">Dec</text>
<text x="983.87" y="428.1" font-size="4.7" text-anchor="middle" fill="#666">13</text>
</g></svg></body></html>
